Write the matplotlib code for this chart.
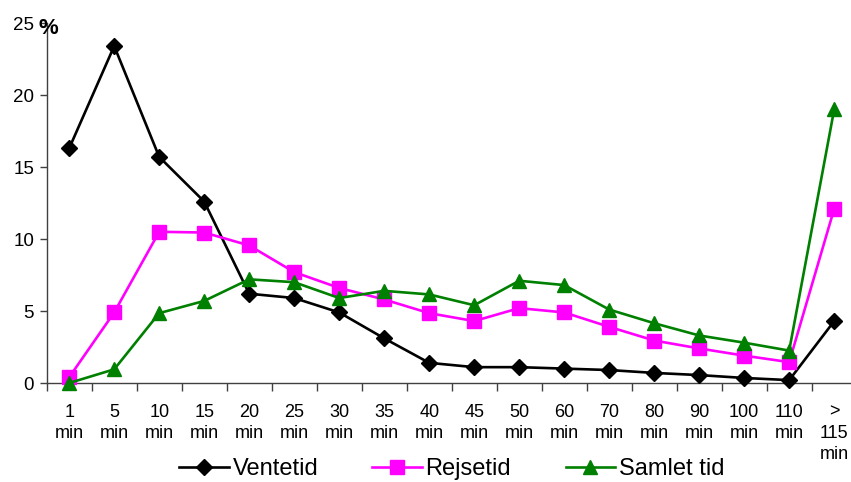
import matplotlib
matplotlib.use("Agg")
import matplotlib.pyplot as plt
import numpy as np

plt.rcParams['font.family'] = ['Liberation Sans', 'DejaVu Sans']

categories = ["1\nmin", "5\nmin", "10\nmin", "15\nmin", "20\nmin", "25\nmin",
              "30\nmin", "35\nmin", "40\nmin", "45\nmin", "50\nmin", "60\nmin",
              "70\nmin", "80\nmin", "90\nmin", "100\nmin", "110\nmin", ">\n115\nmin"]

ventetid = [16.3, 23.4, 15.7, 12.6, 6.2, 5.9, 4.9, 3.1, 1.4, 1.1, 1.1, 1.0,
            0.9, 0.7, 0.55, 0.35, 0.2, 4.3]
rejsetid = [0.4, 4.9, 10.5, 10.45, 9.55, 7.7, 6.6, 5.8, 4.85, 4.3, 5.2, 4.9,
            3.9, 2.95, 2.4, 1.9, 1.45, 12.1]
samlet_tid = [0.0, 0.95, 4.85, 5.7, 7.2, 7.0, 5.9, 6.4, 6.15, 5.4, 7.1, 6.8,
              5.1, 4.15, 3.3, 2.8, 2.25, 19.0]

W, H = 851, 482
fig = plt.figure(figsize=(W / 100, H / 100), dpi=100)
ax = fig.add_axes([46.7 / W, 99 / H, 810 / W, 360 / H])

x = np.arange(len(categories))
lw = 1.9
ax.plot(x, ventetid, color='black', lw=lw, marker='D', ms=8,
        label='Ventetid', clip_on=False, zorder=3)
ax.plot(x, rejsetid, color='#FF00FF', lw=lw, marker='s', ms=9.5,
        label='Rejsetid', clip_on=False, zorder=3)
ax.plot(x, samlet_tid, color='#008000', lw=lw, marker='^', ms=9.5,
        label='Samlet tid', clip_on=False, zorder=4)

ax.set_xlim(-0.5, len(categories) - 0.5)
ax.set_ylim(0, 25)
ax.set_yticks([0, 5, 10, 15, 20, 25])

# category labels at centres, tick marks on the boundaries
ax.set_xticks(x)
ax.set_xticklabels(categories, fontsize=13, linespacing=1.3, va='top')
ax.set_xticks(np.arange(-0.5, len(categories) - 0.4, 1.0), minor=True)
ax.tick_params(axis='x', which='major', length=0, pad=15)
ax.tick_params(axis='x', which='minor', length=6, width=1, color='#404040',
               direction='out')
ax.tick_params(axis='y', length=5, width=1, color='#404040', labelsize=13.5,
               pad=4)

for s in ['top', 'right']:
    ax.spines[s].set_visible(False)
for s in ['left', 'bottom']:
    ax.spines[s].set_color('#404040')
    ax.spines[s].set_linewidth(1)

fig.text(48 / W, 1 - 28 / H, '%', fontsize=16, fontweight='bold',
         ha='center', va='center')

ax.legend(loc='center', bbox_to_anchor=(451.7 / W, (482 - 469) / H),
          bbox_transform=fig.transFigure, ncol=3, frameon=False, fontsize=17,
          handlelength=2.1, handletextpad=0.15, columnspacing=2.3)

fig.savefig('out.png', dpi=100)
